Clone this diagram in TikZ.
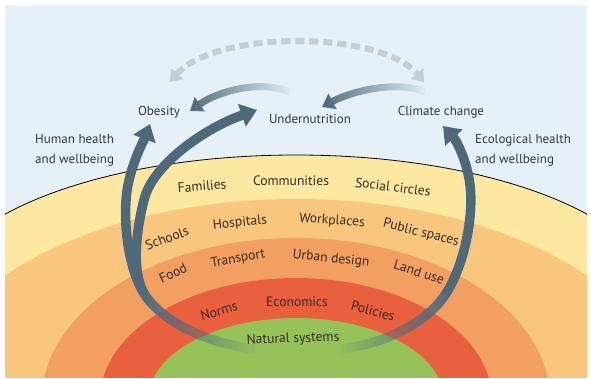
\documentclass[tikz,border=0pt]{standalone}
\usepackage{fontspec}
\setmainfont{PT Sans}
\usetikzlibrary{arrows.meta,fadings}
\definecolor{panel}{HTML}{E5F0F7}
\definecolor{yel}{HTML}{FDE8A1}
\definecolor{lor}{HTML}{F9C67E}
\definecolor{ora}{HTML}{F2A062}
\definecolor{redl}{HTML}{E8603E}
\definecolor{grn}{HTML}{95C35A}
\definecolor{arr}{HTML}{4E6A7A}
\definecolor{dgray}{HTML}{C6CDD3}
\definecolor{txtdark}{HTML}{2F3A42}
\definecolor{txtlayer}{HTML}{3A2A1E}
\begin{document}
\begin{tikzpicture}[x=1pt,y=-1pt,
  toplab/.style={font=\fontsize{13}{20}\selectfont, text=txtdark, inner sep=0pt},
  sidelab/.style={font=\fontsize{13}{20}\selectfont, text=txtdark, inner sep=0pt, align=left, anchor=west},
  laylab/.style={font=\fontsize{13.6}{15}\selectfont, text=txtlayer, inner sep=0pt},
  bigshaft/.style={draw=arr, line width=9.5pt},
  bigarrow/.style={draw=arr, line width=9.5pt, -{Triangle[width=23pt,length=16pt]}},
  smallarrow/.style={draw=arr, line width=7pt, -{Triangle[width=17pt,length=12pt]}},
  dasharc/.style={draw=dgray, line width=6pt, dash pattern=on 9pt off 5pt,
     {Triangle[width=16pt,length=11pt]}-{Triangle[width=16pt,length=11pt]}}
]
\useasboundingbox (0,0) rectangle (591,379);
\fill[white] (0,0) rectangle (591,379);
\begin{scope}
  \clip (5,5) rectangle (587,377);
  \fill[panel] (5,5) rectangle (587,377);
  \fill[yel] (296,299) ellipse [x radius=360pt, y radius=144pt];
  \draw[black, line width=0.8pt] (296,299) ellipse [x radius=360pt, y radius=144pt];
  \fill[lor] (296,400) ellipse [x radius=370pt, y radius=201pt];
  \fill[ora] (296,400) ellipse [x radius=254pt, y radius=162pt];
  \fill[redl] (296,400) ellipse [x radius=196pt, y radius=122pt];
  \fill[grn] (296,400) ellipse [x radius=148pt, y radius=82pt];
\end{scope}

% arrow coordinates
\coordinate (lbot) at (255,349);
\coordinate (lmid) at (145,295);
\coordinate (obtip) at (150,124);
\coordinate (untip) at (257,110);
\coordinate (rbot) at (340,349);
\coordinate (rmid) at (445,295);
\coordinate (cctip) at (443,126);

% big arrows
\path[bigshaft, path fading=east] (lmid) .. controls (165,325) and (215,345) .. (lbot);
\path[bigarrow] (lmid) .. controls (127,268) and (122,215) .. (128,185)
   .. controls (133,160) and (144,140) .. (obtip);
\path[bigarrow] (lmid) .. controls (132,275) and (135,235) .. (144,200)
   .. controls (152,165) and (205,128) .. (untip);
\path[bigshaft, path fading=west] (rmid) .. controls (425,325) and (380,345) .. (rbot);
\path[bigarrow] (rmid) .. controls (463,268) and (474,220) .. (470,185)
   .. controls (467,160) and (456,140) .. (cctip);

% small top arrows
\coordinate (atail) at (290,92);
\coordinate (atip) at (190,111);
\coordinate (btail) at (425,92);
\coordinate (btip) at (322,107);
\path[smallarrow, path fading=east] (atail) .. controls (262,80) and (220,90) .. (atip);
\path[smallarrow, path fading=east] (btail) .. controls (397,80) and (352,91) .. (btip);

% dashed arc
\coordinate (dl) at (170,82);
\coordinate (dr) at (424,82);
\path[dasharc] (dl) .. controls (215,30) and (380,30) .. (dr);

% layer labels
\node[laylab, rotate=5] (families) at (202,186) {Families};
\node[laylab] (communities) at (291,181) {Communities};
\node[laylab, rotate=-7] (social) at (393,187) {Social circles};
\node[laylab, rotate=20] (schools) at (167,238) {Schools};
\node[laylab, rotate=6] (hospitals) at (240,223) {Hospitals};
\node[laylab, rotate=-4] (workplaces) at (332,221) {Workplaces};
\node[laylab, rotate=-14] (public) at (421,233) {Public spaces};
\node[laylab, rotate=25] (food) at (173,273) {Food};
\node[laylab, rotate=10] (transport) at (238,259) {Transport};
\node[laylab, rotate=-6] (urban) at (331,259) {Urban design};
\node[laylab, rotate=-17] (landuse) at (419,272) {Land use};
\node[laylab, rotate=16] (norms) at (219,311) {Norms};
\node[laylab] (economics) at (297,302) {Economics};
\node[laylab, rotate=-15] (policies) at (373,311) {Policies};
\node[laylab, rotate=2] (natural) at (293,339) {Natural systems};

% top labels
\node[toplab] (obesity) at (159,112) {Obesity};
\node[toplab] (undernut) at (310,119) {Undernutrition};
\node[toplab] (climate) at (441,112) {Climate change};
\node[sidelab] (hh) at (35,150) {Human health\\and wellbeing};
\node[sidelab] (eh) at (475,150) {Ecological health\\and wellbeing};
\end{tikzpicture}
\end{document}
